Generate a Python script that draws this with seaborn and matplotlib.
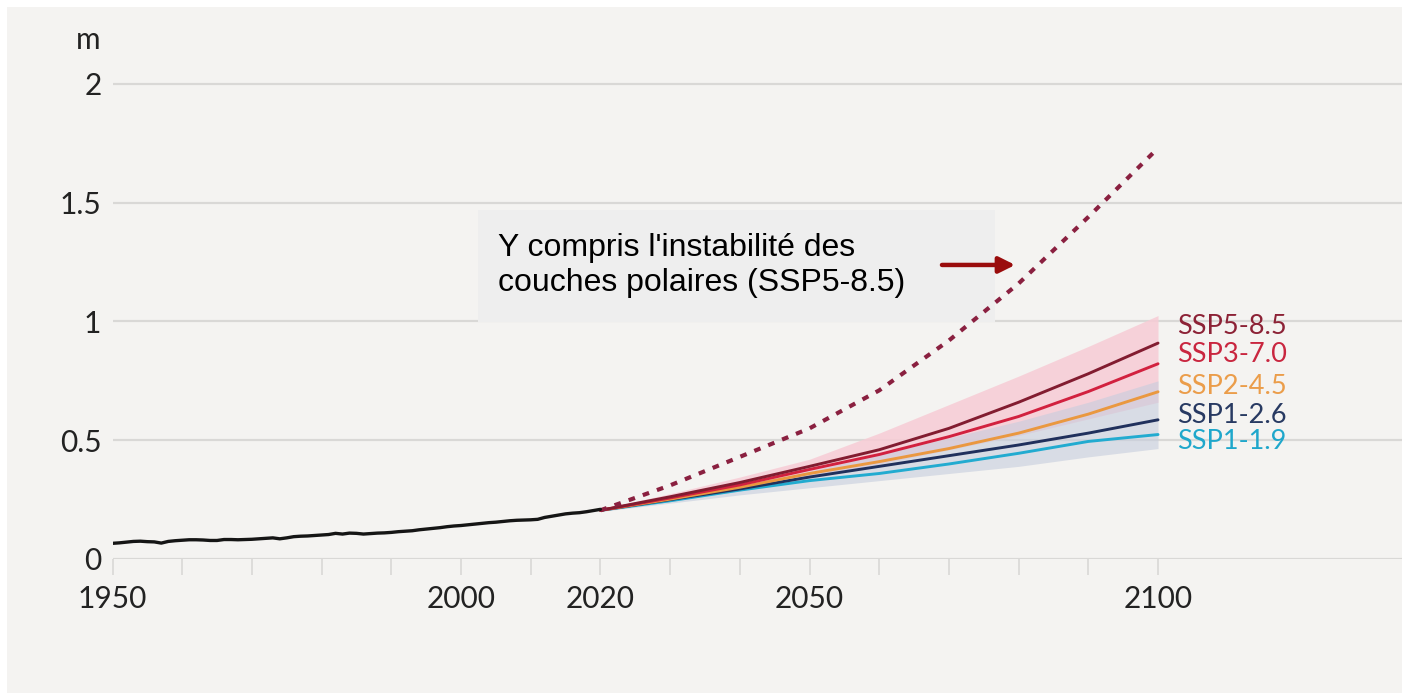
import numpy as np
import pandas as pd
import matplotlib
matplotlib.use("Agg")
import matplotlib.pyplot as plt
from matplotlib.patches import Rectangle
from matplotlib.ticker import FixedLocator, FixedFormatter
import seaborn as sns

# ---------------- data ----------------
hist_years = list(range(1950, 2021))
hist_level = [
    0.066, 0.068, 0.071, 0.074, 0.075, 0.073, 0.072, 0.067, 0.074, 0.077,
    0.079, 0.081, 0.081, 0.080, 0.078, 0.078, 0.082, 0.082, 0.081, 0.082,
    0.083, 0.085, 0.087, 0.089, 0.085, 0.089, 0.094, 0.096, 0.097, 0.099,
    0.101, 0.103, 0.108, 0.105, 0.109, 0.108, 0.105, 0.107, 0.109, 0.110,
    0.112, 0.115, 0.117, 0.119, 0.123, 0.126, 0.129, 0.132, 0.136, 0.139,
    0.141, 0.144, 0.147, 0.150, 0.153, 0.155, 0.158, 0.161, 0.163, 0.164,
    0.165, 0.167, 0.175, 0.180, 0.185, 0.190, 0.193, 0.195, 0.199, 0.204,
    0.209,
]

proj_years = [2020, 2030, 2040, 2050, 2060, 2070, 2080, 2090, 2100]
ssp585 = [0.205, 0.262, 0.322, 0.390, 0.460, 0.550, 0.660, 0.780, 0.909]
ssp370 = [0.205, 0.257, 0.312, 0.377, 0.440, 0.515, 0.600, 0.705, 0.822]
ssp245 = [0.205, 0.252, 0.302, 0.360, 0.410, 0.465, 0.530, 0.610, 0.704]
ssp126 = [0.205, 0.250, 0.295, 0.345, 0.390, 0.435, 0.480, 0.530, 0.586]
ssp119 = [0.205, 0.245, 0.290, 0.330, 0.360, 0.400, 0.445, 0.495, 0.524]

ssp585_low = [0.200, 0.245, 0.295, 0.345, 0.400, 0.460, 0.520, 0.590, 0.660]
ssp585_high = [0.210, 0.275, 0.345, 0.420, 0.530, 0.650, 0.770, 0.895, 1.025]
ssp126_low = [0.200, 0.235, 0.270, 0.300, 0.330, 0.360, 0.390, 0.430, 0.465]
ssp126_high = [0.205, 0.260, 0.310, 0.370, 0.440, 0.510, 0.580, 0.660, 0.750]

ice_sheet_585 = [0.205, 0.310, 0.430, 0.550, 0.710, 0.920, 1.160, 1.440, 1.730]

scenario_names = ["SSP5-8.5", "SSP3-7.0", "SSP2-4.5", "SSP1-2.6", "SSP1-1.9"]
scenario_values = [ssp585, ssp370, ssp245, ssp126, ssp119]

x_ticks = list(range(1950, 2101, 10))
x_labels_shown = ["1950", "2000", "2020", "2050", "2100"]
y_ticks = [0, 0.5, 1, 1.5, 2]
y_labels = ["0", "0.5", "1", "1.5", "2"]

annotation_text = "Y compris l'instabilité des\ncouches polaires (SSP5-8.5)"
unit_label = "m"

# ---------------- style ----------------
line_colors = {
    "SSP5-8.5": "#821c30",
    "SSP3-7.0": "#d2213f",
    "SSP2-4.5": "#ea9840",
    "SSP1-2.6": "#20305c",
    "SSP1-1.9": "#22abd0",
}
label_colors = {
    "SSP5-8.5": "#8c2236",
    "SSP3-7.0": "#c9263f",
    "SSP2-4.5": "#eb9d4a",
    "SSP1-2.6": "#283a62",
    "SSP1-1.9": "#1fa7cb",
}
# vertical placement of the end labels (data units)
label_y = {"SSP5-8.5": 0.978, "SSP3-7.0": 0.859, "SSP2-4.5": 0.728,
           "SSP1-2.6": 0.606, "SSP1-1.9": 0.494}

panel_bg = "#f4f3f1"
grid_col = "#d9d8d6"
text_col = "#222222"

sns.set_theme(style="white")
plt.rcParams["font.family"] = ["Lato", "DejaVu Sans"]

W, H = 1402, 693
fig = plt.figure(figsize=(W / 100, H / 100), dpi=100, facecolor="white")
fig.patches.append(Rectangle((7 / W, 0), 1 - 7 / W, (H - 7) / H,
                             transform=fig.transFigure, facecolor=panel_bg,
                             edgecolor="none", zorder=-10))

ax = fig.add_axes([112.5 / W, (H - 559) / H, (W - 112.5) / W, 552 / H])
ax.set_facecolor("none")
ax.set_xlim(1950, 2135)
ax.set_ylim(0, 2.324)

# grid
for yv in y_ticks:
    ax.axhline(yv, color=grid_col, lw=1.6, zorder=1)

# uncertainty bands
ax.fill_between(proj_years, ssp585_low, ssp585_high, color="#f7ccd5",
                alpha=0.85, lw=0, zorder=2)
ax.fill_between(proj_years, ssp126_low, ssp126_high, color="#c6cddd",
                alpha=0.6, lw=0, zorder=3)

# historical record
hist_df = pd.DataFrame({"year": hist_years, "level": hist_level})
sns.lineplot(data=hist_df, x="year", y="level", ax=ax, color="#151515",
             lw=2.4, zorder=6)

# scenario medians
proj_df = pd.DataFrame({
    "year": np.tile(proj_years, len(scenario_names)),
    "level": np.concatenate(scenario_values),
    "scenario": np.repeat(scenario_names, len(proj_years)),
})
sns.lineplot(data=proj_df, x="year", y="level", hue="scenario",
             hue_order=scenario_names[::-1], palette=line_colors,
             ax=ax, lw=2.1, legend=False, zorder=5)

# low-likelihood high-impact storyline
ice_df = pd.DataFrame({"year": proj_years, "level": ice_sheet_585})
sns.lineplot(data=ice_df, x="year", y="level", ax=ax, color="#8a2040",
             lw=3.0, zorder=5)
ax.lines[-1].set_dashes([1.6, 2.0])

# end labels
for name in scenario_names:
    ax.text(2102.8, label_y[name], name, color=label_colors[name],
            fontsize=19.5, ha="left", va="center", zorder=7)

# annotation box with arrow
ax.add_patch(Rectangle((2002.4, 0.998), 74.2, 0.471, facecolor="#eeeeee",
                       edgecolor="none", zorder=4))
ax.text(2005.3, 1.236, annotation_text, family=["Liberation Sans", "DejaVu Sans"],
        fontsize=23, color="black", ha="left", va="center",
        linespacing=1.25, zorder=7)
ax.annotate("", xy=(2079.5, 1.238), xytext=(2069.0, 1.238),
            arrowprops=dict(arrowstyle="-|>", color="#9a0c0c", lw=3.2,
                            mutation_scale=24, shrinkA=0, shrinkB=0),
            zorder=7)

# axes cosmetics
for s in ["top", "right", "left", "bottom"]:
    ax.spines[s].set_visible(False)

ax.xaxis.set_major_locator(FixedLocator(x_ticks))
ax.xaxis.set_major_formatter(FixedFormatter(
    [str(t) if str(t) in x_labels_shown else "" for t in x_ticks]))
ax.tick_params(axis="x", which="major", direction="out", length=11.5,
               width=1.2, color=grid_col, pad=7, labelsize=21.5,
               labelcolor=text_col, bottom=True)
ax.set_yticks(y_ticks)
ax.set_yticklabels(y_labels)
ax.tick_params(axis="y", length=0, pad=8, labelsize=21.5, labelcolor=text_col)
ax.set_xlabel("")
ax.set_ylabel("")

ax.annotate(unit_label, xy=(0, 2.185), xycoords=ax.get_yaxis_transform(),
            xytext=(-8.5, 0), textcoords="offset points", ha="right",
            va="center", fontsize=21.5, color=text_col)

fig.savefig("out.png", dpi=100, facecolor="white")
